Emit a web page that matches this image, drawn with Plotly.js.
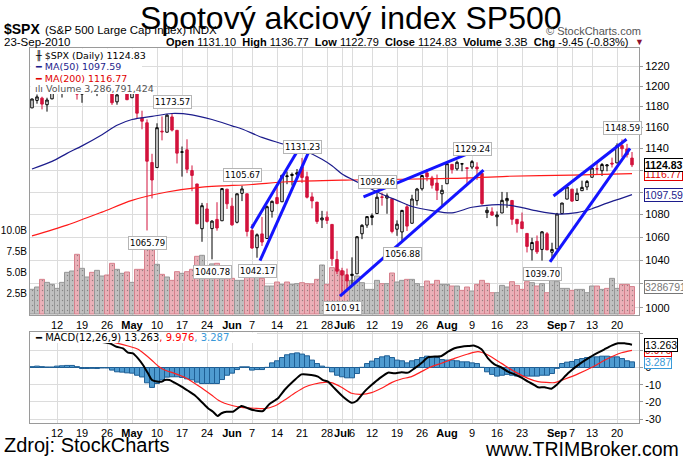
<!DOCTYPE html>
<html>
<head>
<meta charset="utf-8">
<script src="https://cdn.plot.ly/plotly-3.0.1.min.js"></script>
<style>
  html, body { margin: 0; padding: 0; background: #fff; }
  #chart { width: 683px; height: 460px; }
</style>
</head>
<body>
<div id="chart"></div>
<script>
// ===== $SPX daily: candles, MA(50/200), volume, MACD =====

// --- Price data, one entry per trading day (5-Apr-2010 .. 23-Sep-2010) ---
const opens = [
  1178.7, 1186.0, 1188.2, 1181.8, 1187.5, 1194.9, 1195.9, 1198.7, 1210.8, 1210.2,
  1192.1, 1199.0, 1207.2, 1202.5, 1207.9, 1217.1, 1209.9, 1184.6, 1193.3, 1206.8,
  1188.6, 1197.5, 1169.2, 1164.4, 1127.0, 1122.3, 1156.4, 1155.4, 1170.0, 1157.2,
  1136.5, 1138.8, 1119.6, 1107.3, 1067.3, 1084.8, 1067.4, 1075.5, 1074.3, 1102.6,
  1087.3, 1073.0, 1098.8, 1098.4, 1065.8, 1050.8, 1062.8, 1058.8, 1082.7, 1095.0,
  1091.2, 1114.0, 1115.0, 1116.2, 1122.8, 1113.9, 1095.6, 1090.9, 1075.1, 1077.5,
  1071.1, 1040.6, 1031.1, 1027.7, 1027.0, 1028.5, 1062.9, 1070.5, 1077.2, 1080.7,
  1095.6, 1094.5, 1093.9, 1066.9, 1064.5, 1086.7, 1072.1, 1092.2, 1102.9, 1117.4,
  1112.8, 1108.1, 1098.4, 1107.5, 1125.3, 1121.1, 1125.6, 1122.1, 1122.8, 1122.9,
  1116.9, 1081.5, 1082.2, 1077.8, 1081.2, 1092.1, 1092.4, 1075.6, 1073.4, 1063.2,
  1049.0, 1056.3, 1049.3, 1062.9, 1046.9, 1049.7, 1080.7, 1093.6, 1102.6, 1092.4,
  1101.2, 1104.6, 1113.4, 1121.2, 1119.4, 1123.9, 1126.4, 1126.6, 1142.8, 1139.5,
  1131.10
];
const highs = [
  1187.7, 1191.8, 1189.6, 1188.6, 1194.7, 1199.2, 1199.0, 1210.7, 1213.9, 1210.2,
  1197.9, 1208.6, 1211.0, 1210.3, 1217.3, 1219.8, 1211.4, 1195.1, 1209.4, 1208.0,
  1205.1, 1197.5, 1176.0, 1167.6, 1135.1, 1163.9, 1170.5, 1172.9, 1173.57, 1157.2,
  1141.9, 1148.7, 1124.3, 1107.3, 1090.2, 1090.0, 1074.8, 1090.8, 1103.5, 1102.6,
  1094.8, 1098.6, 1105.67, 1098.4, 1071.4, 1063.2, 1077.7, 1087.9, 1092.3, 1105.9,
  1115.6, 1118.7, 1117.7, 1121.0, 1131.23, 1118.5, 1099.6, 1090.9, 1083.1, 1082.6,
  1071.1, 1048.1, 1033.6, 1032.9, 1042.5, 1060.9, 1071.3, 1078.2, 1080.8, 1099.1,
  1099.46, 1098.7, 1093.9, 1074.7, 1083.9, 1089.0, 1097.5, 1103.7, 1115.0, 1121.0,
  1114.7, 1115.9, 1106.4, 1127.3, 1125.4, 1128.8, 1126.6, 1122.1, 1129.24, 1127.2,
  1116.9, 1086.7, 1086.2, 1082.6, 1100.1, 1099.8, 1092.4, 1075.6, 1081.6, 1063.2,
  1059.4, 1061.4, 1065.2, 1064.4, 1055.1, 1081.3, 1090.1, 1105.1, 1102.6, 1103.3,
  1110.3, 1110.9, 1123.9, 1127.4, 1126.5, 1125.4, 1131.5, 1144.9, 1148.59, 1144.4,
  1136.77
];
const lows = [
  1178.7, 1182.8, 1177.3, 1175.1, 1187.2, 1194.7, 1188.8, 1198.7, 1208.5, 1186.8,
  1183.7, 1199.0, 1198.9, 1190.2, 1205.1, 1211.1, 1181.6, 1181.8, 1193.3, 1186.3,
  1188.6, 1168.1, 1158.2, 1065.79, 1094.2, 1122.3, 1147.7, 1155.4, 1156.1, 1126.1,
  1114.0, 1117.2, 1100.7, 1071.6, 1055.9, 1072.7, 1040.78, 1065.6, 1074.3, 1084.8,
  1069.9, 1072.0, 1091.8, 1060.5, 1049.9, 1042.17, 1052.3, 1058.8, 1077.1, 1089.0,
  1091.2, 1107.1, 1105.9, 1113.9, 1108.2, 1094.2, 1085.3, 1071.6, 1067.9, 1071.5,
  1035.2, 1028.3, 1010.91, 1015.9, 1018.4, 1028.5, 1058.2, 1068.1, 1070.4, 1080.7,
  1087.7, 1080.5, 1063.3, 1061.1, 1056.88, 1065.3, 1072.1, 1087.9, 1101.3, 1109.8,
  1103.1, 1092.8, 1088.0, 1107.5, 1116.8, 1119.5, 1118.9, 1107.2, 1120.9, 1111.0,
  1088.6, 1076.7, 1079.0, 1069.5, 1081.2, 1085.8, 1070.7, 1063.9, 1067.1, 1046.7,
  1039.8, 1045.4, 1039.70, 1048.8, 1040.9, 1049.7, 1080.4, 1093.6, 1091.2, 1092.4,
  1101.2, 1101.7, 1113.4, 1115.6, 1114.6, 1118.9, 1122.4, 1126.6, 1131.9, 1131.6,
  1122.79
];
const closes = [
  1187.4, 1189.4, 1182.4, 1186.4, 1194.4, 1196.5, 1197.3, 1210.7, 1211.7, 1192.1,
  1197.5, 1207.2, 1205.9, 1208.7, 1217.3, 1212.1, 1183.7, 1191.4, 1206.8, 1186.7,
  1202.3, 1173.6, 1165.9, 1128.2, 1110.9, 1159.7, 1155.8, 1171.7, 1157.4, 1135.7,
  1136.9, 1120.8, 1115.1, 1071.6, 1087.7, 1073.7, 1074.0, 1068.0, 1103.1, 1089.4,
  1070.7, 1098.4, 1102.8, 1064.9, 1050.5, 1062.0, 1055.7, 1086.8, 1091.6, 1089.6,
  1115.2, 1114.6, 1116.0, 1117.5, 1113.2, 1095.3, 1092.0, 1073.7, 1076.8, 1074.6,
  1041.2, 1030.7, 1027.4, 1022.6, 1028.1, 1060.3, 1070.3, 1078.0, 1078.8, 1095.3,
  1095.2, 1096.5, 1064.9, 1071.3, 1083.5, 1069.6, 1093.7, 1102.7, 1115.0, 1113.8,
  1106.1, 1101.5, 1101.6, 1125.9, 1120.5, 1127.2, 1125.8, 1121.6, 1127.8, 1121.1,
  1089.5, 1083.6, 1079.3, 1079.4, 1092.5, 1094.2, 1075.6, 1071.7, 1067.4, 1051.9,
  1055.3, 1047.2, 1064.6, 1048.9, 1049.3, 1080.3, 1090.1, 1104.5, 1091.8, 1098.9,
  1104.2, 1109.6, 1121.9, 1121.1, 1125.1, 1124.7, 1125.6, 1142.7, 1139.8, 1134.3,
  1124.83
];
const prevCloseBefore = 1178.1; // 1-Apr close, colours the first volume bar

// volume in billions of shares
const volumes = [
  2.96, 3.23, 4.15, 3.79, 3.55, 3.07, 3.79, 4.99, 5.15, 7.15,
  5.47, 4.43, 4.99, 5.23, 4.55, 4.67, 6.07, 5.35, 4.87, 5.03,
  3.79, 5.35, 5.35, 8.9, 8.8, 5.95, 4.75, 4.43, 4.03, 5.07,
  4.87, 5.07, 5.35, 6.91, 7.03, 5.6, 6.0, 6.07, 5.0, 4.23,
  4.27, 4.03, 4.03, 4.75, 4.75, 4.95, 4.27, 3.35, 3.35, 3.83,
  3.55, 3.83, 3.55, 3.63, 3.75, 3.63, 3.6, 4.15, 5.87, 3.55,
  5.55, 5.35, 5.15, 4.0, 4.03, 4.55, 3.75, 2.95, 2.95, 4.03,
  3.63, 3.63, 4.91, 3.83, 4.03, 4.15, 4.15, 3.63, 3.27, 3.95,
  3.55, 4.03, 3.55, 3.55, 3.35, 3.35, 2.83, 3.23, 2.75, 3.55,
  4.03, 3.67, 2.55, 2.55, 3.43, 3.23, 3.87, 3.43, 2.95, 3.87,
  3.75, 3.35, 3.63, 2.55, 4.03, 3.87, 3.07, 3.07, 2.83, 2.95,
  2.95, 2.55, 3.35, 3.35, 2.95, 3.07, 4.27, 3.07, 3.55, 3.55,
  3.287
];

// --- Moving averages (day index, value) ---
const ma50Idx = [0, 4, 7, 10, 14, 17, 20, 24, 28, 32, 36, 40, 42, 46, 50, 55, 58, 60, 62, 64,
  66, 70, 73, 76, 80, 84, 88, 92, 95, 98, 101, 105, 109, 112, 115, 118, 120];
const ma50Val = [1121, 1128, 1135.5, 1142.5, 1153, 1162, 1167.5, 1170.5, 1173.3, 1172, 1167.5,
  1161.5, 1158.5, 1150.5, 1144.5, 1137, 1130, 1124, 1116.5, 1111.5, 1107, 1098, 1092.5, 1087,
  1083.3, 1081.3, 1086.3, 1088.5, 1088.3, 1086, 1083, 1080.3, 1081.5, 1085, 1090, 1094.5, 1097.59];
const ma200Idx = [0, 7, 14, 20, 27, 34, 38, 44, 51, 64, 84, 95, 108, 120];
const ma200Val = [1061, 1070.5, 1082, 1092.5, 1100, 1104.5, 1105.5, 1106.8, 1109.3, 1110.9,
  1112.4, 1114.3, 1115.3, 1116.77];

// --- MACD(12,26,9) ---
const macdIdx = [0, 4, 8, 12, 15.5, 16.9, 18.2, 19.2, 20.2, 21.2, 22.2, 23.2, 24, 25, 26, 26.5,
  27.5, 28.5, 29.9, 31.2, 32.5, 33.9, 35.2, 36.2, 37.1, 37.9, 38.9, 40.2, 41.9, 43.2, 44.2, 46.2,
  47.5, 49.2, 50.5, 52.2, 53.9, 55.9, 57.2, 58.2, 59.2, 60.5, 62.2, 63.9, 64.9, 66.5, 67.9, 69.5,
  71.2, 72.5, 73.9, 75.2, 76.5, 78.2, 79.2, 81.9, 83.2, 84.5, 85.9, 87.2, 88.5, 89.9, 91.2, 92.5,
  93.9, 95.2, 96.5, 97.9, 99.2, 100.5, 101.2, 102.5, 103.9, 104.9, 105.9, 107.2, 109.2, 111.2,
  113.2, 114.5, 115.9, 117.2, 118.5, 120];
const macdVal = [16, 16.5, 17.5, 15.5, 14.05, 12.1, 11.1, 8.6, 8.2, 5.3, 1.45, -3.4, -7.3, -8.2,
  -8.2, -7.3, -7.3, -8.8, -11.1, -13.5, -16, -19.9, -23.7, -25.7, -28.2, -26.6, -25.7, -25.7,
  -22.4, -23.7, -24.7, -25.3, -21.2, -17.9, -13.1, -8.2, -4.0, -4.4, -5.3, -7.3, -8.2, -12.1,
  -17, -20.5, -19.5, -14, -10.2, -6.3, -3.0, -3.4, -2.8, -3.0, -0.5, 3.4, 5.9, 6.7, 9.2, 11.2,
  12.1, 12.5, 12.7, 10.6, 5.3, 1.8, 0, -2.4, -4.0, -5.9, -8.2, -10.2, -11.5, -11.5, -12.3,
  -10.2, -7.3, -3.4, 1.4, 5.3, 8.6, 10.6, 12.7, 14.05, 14.05, 13.263];
const signalIdx = [0, 5, 10, 14, 17.2, 19.2, 21.2, 22.5, 23.9, 25.2, 26.5, 28.5, 30.5, 32.5,
  34.5, 35.9, 37.2, 38.5, 40.4, 41.9, 44.5, 46.5, 48.5, 50.5, 52.5, 54.5, 56.5, 58.5, 59.9, 61.9,
  63.9, 65.9, 67.9, 69.9, 71.9, 73.9, 75.9, 77.9, 79.5, 81.9, 84.5, 87.2, 89.2, 91.2, 93.9, 96.5,
  99.2, 101.2, 104.5, 106.5, 109.2, 112.5, 114.9, 117.9, 120];
const signalVal = [15.5, 16.7, 17.5, 16, 14.05, 12.5, 10.6, 7.85, 4.4, 0.9, -1.45, -3.4, -5.7,
  -9.2, -13.1, -16, -18.9, -20.8, -22.4, -23.2, -23.7, -23.9, -22.4, -18.9, -15.0, -11.5, -9.6,
  -8.6, -8.8, -11.5, -15, -15.6, -14.6, -12.1, -8.8, -6.7, -5.3, -2.4, 0, 2.5, 5.3, 7.85, 9.2,
  7.3, 2.4, -2.4, -6.3, -8.2, -8.8, -6.8, -3.7, 0.9, 4.8, 8.6, 9.976];
const histVal = [
  0.5, 0.8, 0.5, 0.3, 0.3, 0.8, 1.0, 1.2, 1.2, 0.5,
  -0.6, -0.6, -0.5, -0.6, -0.3, -0.3, -1.5, -2.5, -2.7, -3.1,
  -3.3, -4.5, -5.5, -8.9, -11.6, -9.3, -7.2, -5.6, -5.4, -5.4,
  -5.8, -6.6, -7.2, -8.5, -9.3, -9.3, -9.3, -9.3, -7.0, -4.5,
  -3.3, -1.2, 0.4, 0.4, -1.5, -1.2, -1.2, 0.1, 2.7, 3.9,
  5.8, 7.4, 8.0, 8.5, 7.8, 6.8, 4.3, 2.3, 0.8, 0.1,
  -2.5, -4.5, -5.4, -6.0, -6.0, -3.5, 0.1, 2.3, 3.7, 5.2,
  6.2, 6.8, 5.8, 4.3, 3.9, 2.7, 3.9, 4.6, 5.8, 6.6,
  6.4, 5.8, 4.6, 4.3, 4.3, 3.9, 3.3, 3.3, 2.7, 2.3,
  0.1, -2.5, -4.0, -5.0, -4.5, -4.0, -4.5, -5.0, -5.0, -5.0,
  -5.0, -5.0, -4.5, -4.5, -3.5, -0.5, 2.3, 3.1, 3.5, 4.6,
  5.2, 5.8, 6.2, 6.2, 6.6, 6.6, 6.2, 6.2, 5.2, 3.9,
  3.287
];

// --- Hand-drawn trend lines: [day1, price1, day2, price2] ---
const trendLines = [
  [43.9, 1067.6, 53.3, 1139.3],
  [45.6, 1039.6, 55.5, 1138.6],
  [66.3, 1095.7, 88.9, 1138.6],
  [61.6, 1009.9, 90.3, 1120.0],
  [104.3, 1096.4, 118.9, 1148.7],
  [103.6, 1038.7, 119.6, 1140.2]
];

// --- Peak / trough labels: [day, value, +1 above / -1 below] ---
const peakLabels = [
  [28, 1173.57, 1], [23, 1065.79, -1], [42, 1105.67, 1], [54, 1131.23, 1],
  [36, 1040.78, -1], [45, 1042.17, -1], [69, 1099.46, 1], [62, 1010.91, -1],
  [74, 1056.88, -1], [88, 1129.24, 1], [102, 1039.70, -1], [118, 1148.59, 1]
];

// --- Axis ticks ---
const tickIdx = [5, 10, 15, 20, 25, 30, 35, 40, 44, 49, 54, 59, 62, 64, 68, 73, 78, 83, 88, 93, 98, 105, 108, 112, 117];
const tickText = ['12', '19', '26', '<b>May</b>', '10', '17', '24', '<b>Jun</b>', '7', '14', '21', '28',
  '<b>Jul</b>', '6', '12', '19', '26', '<b>Aug</b>', '9', '16', '23', '<b>Sep</b>', '7', '13', '20'];
const priceTicks = [1000, 1020, 1040, 1060, 1080, 1100, 1120, 1140, 1160, 1180, 1200, 1220];
const volTicks = [2.5, 5.0, 7.5, 10.0];
const macdTicks = [-30, -20, -10, 0, 10, 20];

// --- Colours ---
const RED = "#d2133c";
const NAVY = "#1c1c8c";
const MACD_BLUE = "#4f9bd0";

// --- Helpers: pixel positions -> paper coords (plot area x 30..639, full height) ---
const W = 683, H = 460, L = 30, R = 44;
const px = (x) => (x - L) / (W - L - R);
const py = (y) => 1 - y / H;
const lg = (v) => Math.log10(v);

const days = closes.map((_, i) => i);
const volColors = closes.map((c, i) => (c < (i === 0 ? prevCloseBefore : closes[i - 1]) ? "down" : "up"));

const traces = [];

// volume (base axis, drawn first)
traces.push({
  type: "bar",
  x: days,
  y: volumes.map((v) => v * 1e9),
  xaxis: "x",
  yaxis: "y",
  width: 1,
  marker: {
    color: volColors.map((c) => (c === "down" ? "rgb(234,176,184)" : "rgb(192,192,192)")),
    line: { color: volColors.map((c) => (c === "down" ? "rgb(214,128,140)" : "rgb(150,150,150)")), width: 1 },
    pattern: { shape: ".", fillmode: "overlay", fgcolor: "rgba(90,90,90,0.45)", size: 5, solidity: 0.06 },
  },
});

// moving averages
traces.push({
  type: "scatter", mode: "lines", x: ma200Idx, y: ma200Val, xaxis: "x", yaxis: "y2",
  line: { color: "#ff1a1a", width: 1.2, shape: "spline", smoothing: 0.8 },
});
traces.push({
  type: "scatter", mode: "lines", x: ma50Idx, y: ma50Val, xaxis: "x", yaxis: "y2",
  line: { color: NAVY, width: 1.2, shape: "spline", smoothing: 0.8 },
});

// candles
traces.push({
  type: "candlestick",
  x: days, open: opens, high: highs, low: lows, close: closes,
  xaxis: "x", yaxis: "y2",
  whiskerwidth: 0,
  increasing: { line: { color: "#000", width: 1 }, fillcolor: "#fff" },
  decreasing: { line: { color: RED, width: 1 }, fillcolor: RED },
});

// trend lines
trendLines.forEach(([x1, y1, x2, y2]) => {
  traces.push({
    type: "scatter", mode: "lines", x: [x1, x2], y: [y1, y2], xaxis: "x", yaxis: "y2",
    line: { color: "#1414ff", width: 3 },
  });
});

// MACD panel
traces.push({
  type: "bar", x: days, y: histVal, xaxis: "x2", yaxis: "y3", width: 1,
  marker: { color: MACD_BLUE, line: { color: "#1f5f95", width: 1 } },
});
traces.push({
  type: "scatter", mode: "lines", x: signalIdx, y: signalVal, xaxis: "x2", yaxis: "y3",
  line: { color: "#ff2020", width: 1.2, shape: "spline", smoothing: 0.6 },
});
traces.push({
  type: "scatter", mode: "lines", x: macdIdx, y: macdVal, xaxis: "x2", yaxis: "y3",
  line: { color: "#000", width: 2, shape: "spline", smoothing: 0.6 },
});

// --- Annotations ---
const SANS = "Liberation Sans, Arial, sans-serif";
const VERD = "DejaVu Sans, Verdana, sans-serif";
const ann = [];

function text(t, x, y, opts) {
  ann.push(Object.assign({
    text: t, xref: "paper", yref: "paper", x: px(x), y: py(y),
    showarrow: false, xanchor: "left", yanchor: "middle",
    font: { family: SANS, size: 11, color: "#000" },
  }, opts || {}));
}

// header
text("Spotový akciový index SP500", 351, 18, { xanchor: "center", font: { family: SANS, size: 32, color: "#000" } });
text("<b>$SPX</b>", 2, 29, { font: { family: SANS, size: 14, color: "#000" } });
text("(S&P 500 Large Cap Index) INDX", 43, 30, { font: { family: SANS, size: 11.5, color: "#000" } });
text("© StockCharts.com", 643, 31, { xanchor: "right", font: { family: SANS, size: 11, color: "#555" } });
text("23-Sep-2010", 2, 42, { font: { family: SANS, size: 11.5, color: "#000" } });
text("<b>Open</b> 1131.10  <b>High</b> 1136.77  <b>Low</b> 1122.79  <b>Close</b> 1124.83  <b>Volume</b> 3.3B  <b>Chg</b> -9.45 (-0.83%)",
  631, 42, { xanchor: "right", font: { family: SANS, size: 11, color: "#000" } });
text("▼", 633, 42, { font: { family: SANS, size: 9, color: "#8b1030" } });

// footer
text("Zdroj: StockCharts", 2, 445, { font: { family: SANS, size: 20, color: "#000" } });
text("www.TRIMBroker.com", 681, 449, { xanchor: "right", font: { family: SANS, size: 19.5, color: "#000" } });

// legend inside price panel
text("<b>╫</b> $SPX (Daily) 1124.83", 33, 56, { font: { family: VERD, size: 9.5, color: "#000" } });
text("━ MA(50) 1097.59", 33, 67, { font: { family: VERD, size: 9.5, color: NAVY } });
text("━ MA(200) 1116.77", 33, 78, { font: { family: VERD, size: 9.5, color: "#e00000" } });
text("ılı Volume 3,286,791,424", 33, 88, { font: { family: VERD, size: 9.5, color: "#555" } });

// legend inside MACD panel
text("<b>━</b> MACD(12,26,9) 13.263<span style='color:#ff0000'>, 9.976</span><span style='color:#3a9ad9'>, 3.287</span>",
  33, 337, { font: { family: VERD, size: 10, color: "#000" } });

// peak / trough labels
peakLabels.forEach(([i, v, side]) => {
  ann.push({
    text: v.toFixed(2), xref: "x", yref: "y2", x: i, y: lg(v),
    showarrow: false, xanchor: "center",
    yanchor: side > 0 ? "bottom" : "top", yshift: side > 0 ? 4 : -6,
    bgcolor: "#fff", bordercolor: "#b5b5b5", borderwidth: 1, borderpad: 1,
    font: { family: VERD, size: 8.5, color: "#000" },
  });
});

// right-side value tags (they sit over the axis labels, as in the source)
function tag(t, yref, y, color, bold) {
  ann.push({
    text: bold ? "<b>" + t + "</b>" : t, xref: "paper", yref: yref, x: 1, y: y,
    xanchor: "left", yanchor: "middle", xshift: 5, showarrow: false,
    bgcolor: "#fff", bordercolor: color, borderwidth: 1, borderpad: 0,
    font: { family: SANS, size: 10.5, color: bold ? "#000" : color },
  });
}
tag("3286791", "y", volumes[volumes.length - 1] * 1e9, "#777", false);
tag("1097.59", "y2", lg(ma50Val[ma50Val.length - 1]), NAVY, false);
tag("1116.77", "y2", lg(ma200Val[ma200Val.length - 1]), "#e00000", false);
tag("1124.83", "y2", lg(closes[closes.length - 1]), "#000", true);
tag("3.287", "y3", histVal[histVal.length - 1], "#3a9ad9", false);
tag("9.976", "y3", signalVal[signalVal.length - 1], "#e00000", false);
tag("13.263", "y3", macdVal[macdVal.length - 1], "#000", false);

// --- Shapes: white legend backgrounds ---
const shapes = [
  { type: "rect", xref: "paper", yref: "paper", x0: px(30.5), x1: px(142), y0: py(94), y1: py(48.5),
    fillcolor: "#fff", line: { width: 0 }, layer: "above" },
  { type: "rect", xref: "paper", yref: "paper", x0: px(30.5), x1: px(257), y0: py(343), y1: py(332.5),
    fillcolor: "#fff", line: { width: 0 }, layer: "above" },
];

// --- Layout ---
const gridCol = "#dcdcdc";
const lineCol = "#9a9a9a";
const xCommon = {
  range: [-0.4, 121.4], tickmode: "array", tickvals: tickIdx, ticktext: tickText, tickangle: 0,
  showgrid: true, gridcolor: gridCol, gridwidth: 1, zeroline: false,
  showline: true, mirror: true, linecolor: lineCol, linewidth: 1,
  ticks: "",
  tickfont: { family: SANS, size: 11, color: "#000" }, fixedrange: true,
};

const layout = {
  width: W, height: H,
  margin: { l: L, r: R, t: 0, b: 0, pad: 0 },
  paper_bgcolor: "#fff", plot_bgcolor: "#fff",
  showlegend: false, hovermode: false, dragmode: false,
  bargap: 0,
  xaxis: Object.assign({}, xCommon, { anchor: "y", rangeslider: { visible: false } }),
  xaxis2: Object.assign({}, xCommon, { anchor: "y3", matches: "x" }),
  yaxis: {
    domain: [py(315), py(48)], range: [-0.12e9, 31.86e9],
    tickmode: "array", tickvals: volTicks.map((v) => v * 1e9), ticktext: volTicks.map((v) => v.toFixed(1) + "B"),
    showgrid: false, zeroline: false, showline: true, linecolor: lineCol, ticks: "",
    tickfont: { family: SANS, size: 10, color: "#000" }, fixedrange: true,
  },
  yaxis2: {
    overlaying: "y", side: "right", type: "log", range: [lg(994.26), lg(1238.19)],
    tickmode: "array", tickvals: priceTicks, ticktext: priceTicks.map(String),
    showgrid: true, gridcolor: gridCol, zeroline: false, showline: true, linecolor: lineCol,
    ticks: "outside", ticklen: 3, tickcolor: lineCol,
    tickfont: { family: SANS, size: 11, color: "#000" }, fixedrange: true,
  },
  yaxis3: {
    domain: [py(423), py(332)], range: [-32.27, 20.64], side: "right", anchor: "x2",
    tickmode: "array", tickvals: macdTicks, ticktext: macdTicks.map((v) => (v > 0 ? "" : String(v))),
    showgrid: true, gridcolor: gridCol, zeroline: false, showline: true, mirror: true, linecolor: lineCol,
    ticks: "outside", ticklen: 3, tickcolor: lineCol,
    tickfont: { family: SANS, size: 11, color: "#000" }, fixedrange: true,
  },
  annotations: ann,
  shapes: shapes,
};

Plotly.newPlot("chart", traces, layout, { staticPlot: true, displayModeBar: false });
</script>
</body>
</html>
